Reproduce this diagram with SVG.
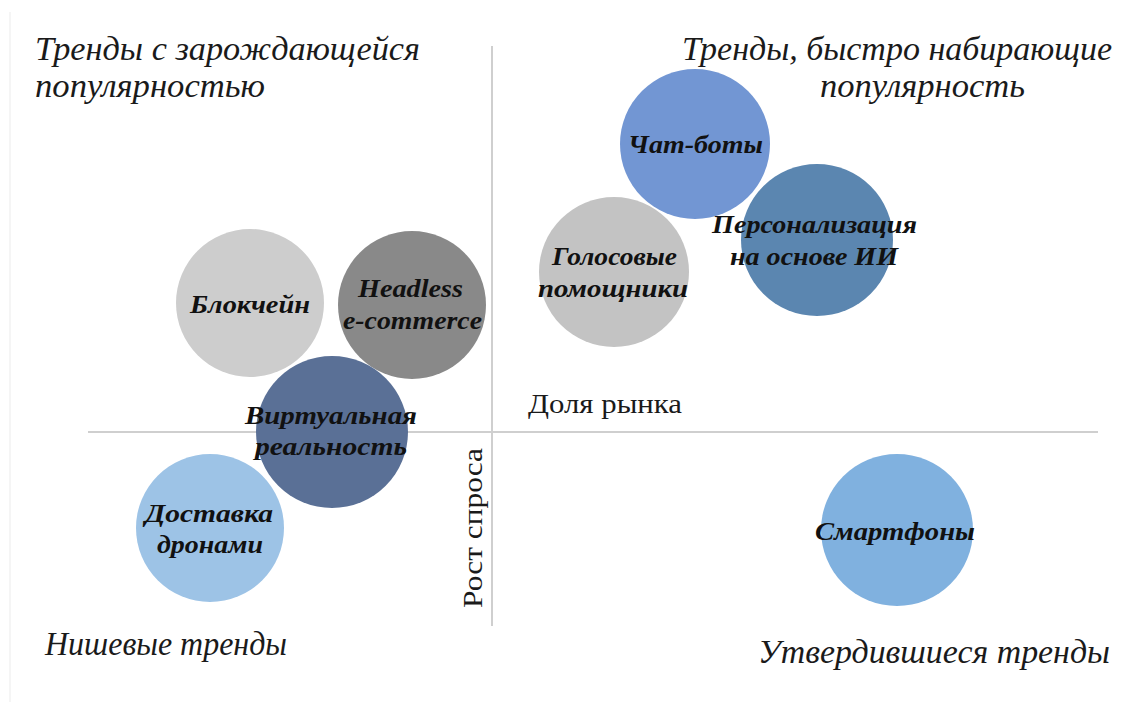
<svg xmlns="http://www.w3.org/2000/svg" width="1122" height="702" viewBox="0 0 1122 702">
<style>
.q{font-family:"Liberation Serif","DejaVu Serif",serif;font-style:italic;font-size:33px;fill:#1a1a1a}
.ax{font-family:"Liberation Serif","DejaVu Serif",serif;font-size:28px;fill:#1a1a1a}
.lb{font-family:"Liberation Serif","DejaVu Serif",serif;font-style:italic;font-weight:bold;font-size:26px;fill:#111}
.axis{stroke:#cfcfcf;stroke-width:2;fill:none}
</style>
<rect width="1122" height="702" fill="#ffffff"/>
<line x1="10" y1="12" x2="10" y2="702" stroke="#f2f2f2" stroke-width="1.5"/>
<g id="connectors">
<line class="axis" x1="492" y1="46" x2="492" y2="626"/>
<line class="axis" x1="88" y1="432" x2="1098" y2="432"/>
</g>
<g id="quadrant-labels">
<text class="q" x="35" y="60" textLength="385" lengthAdjust="spacingAndGlyphs">Тренды с зарождающейся</text>
<text class="q" x="35" y="97" textLength="230" lengthAdjust="spacingAndGlyphs">популярностью</text>
<text class="q" x="682" y="60" textLength="430" lengthAdjust="spacingAndGlyphs">Тренды, быстро набирающие</text>
<text class="q" x="820" y="97" textLength="205" lengthAdjust="spacingAndGlyphs">популярность</text>
<text class="q" x="45" y="655" textLength="242" lengthAdjust="spacingAndGlyphs">Нишевые тренды</text>
<text class="q" x="758" y="663" textLength="352" lengthAdjust="spacingAndGlyphs">Утвердившиеся тренды</text>
</g>
<g id="axis-labels">
<text class="ax" x="528" y="413" textLength="154" lengthAdjust="spacingAndGlyphs">Доля рынка</text>
<text class="ax" transform="translate(482,608) rotate(-90)" x="0" y="0" textLength="160" lengthAdjust="spacingAndGlyphs">Рост спроса</text>
</g>
<g id="node-blockchain">
<circle cx="250" cy="303" r="74" fill="#cdcdcd"/>
<text class="lb" x="190" y="313" textLength="120" lengthAdjust="spacingAndGlyphs">Блокчейн</text>
</g>
<g id="node-headless">
<circle cx="412" cy="305" r="74" fill="#898989"/>
<text class="lb" x="358" y="297" textLength="105" lengthAdjust="spacingAndGlyphs">Headless</text>
<text class="lb" x="343" y="329" textLength="139" lengthAdjust="spacingAndGlyphs">e-commerce</text>
</g>
<g id="node-vr">
<circle cx="332" cy="432" r="76" fill="#5a7096"/>
<text class="lb" x="245" y="424" textLength="172" lengthAdjust="spacingAndGlyphs">Виртуальная</text>
<text class="lb" x="255" y="455" textLength="152" lengthAdjust="spacingAndGlyphs">реальность</text>
</g>
<g id="node-drones">
<circle cx="210" cy="528" r="74" fill="#9dc3e6"/>
<text class="lb" x="145" y="522" textLength="128" lengthAdjust="spacingAndGlyphs">Доставка</text>
<text class="lb" x="157" y="553" textLength="106" lengthAdjust="spacingAndGlyphs">дронами</text>
</g>
<g id="node-chatbots">
<circle cx="695" cy="144" r="75" fill="#7296d3"/>
<text class="lb" x="628" y="153" textLength="135" lengthAdjust="spacingAndGlyphs">Чат-боты</text>
</g>
<g id="node-voice">
<circle cx="614" cy="272" r="75" fill="#c3c3c3"/>
<text class="lb" x="552" y="265" textLength="125" lengthAdjust="spacingAndGlyphs">Голосовые</text>
<text class="lb" x="538" y="297" textLength="150" lengthAdjust="spacingAndGlyphs">помощники</text>
</g>
<g id="node-ai">
<circle cx="817" cy="240" r="76" fill="#5b86b0"/>
<text class="lb" x="712" y="233" textLength="205" lengthAdjust="spacingAndGlyphs">Персонализация</text>
<text class="lb" x="730" y="265" textLength="168" lengthAdjust="spacingAndGlyphs">на основе ИИ</text>
</g>
<g id="node-smartphones">
<circle cx="897" cy="530" r="76" fill="#80b1df"/>
<text class="lb" x="815" y="540" textLength="160" lengthAdjust="spacingAndGlyphs">Смартфоны</text>
</g>
</svg>
